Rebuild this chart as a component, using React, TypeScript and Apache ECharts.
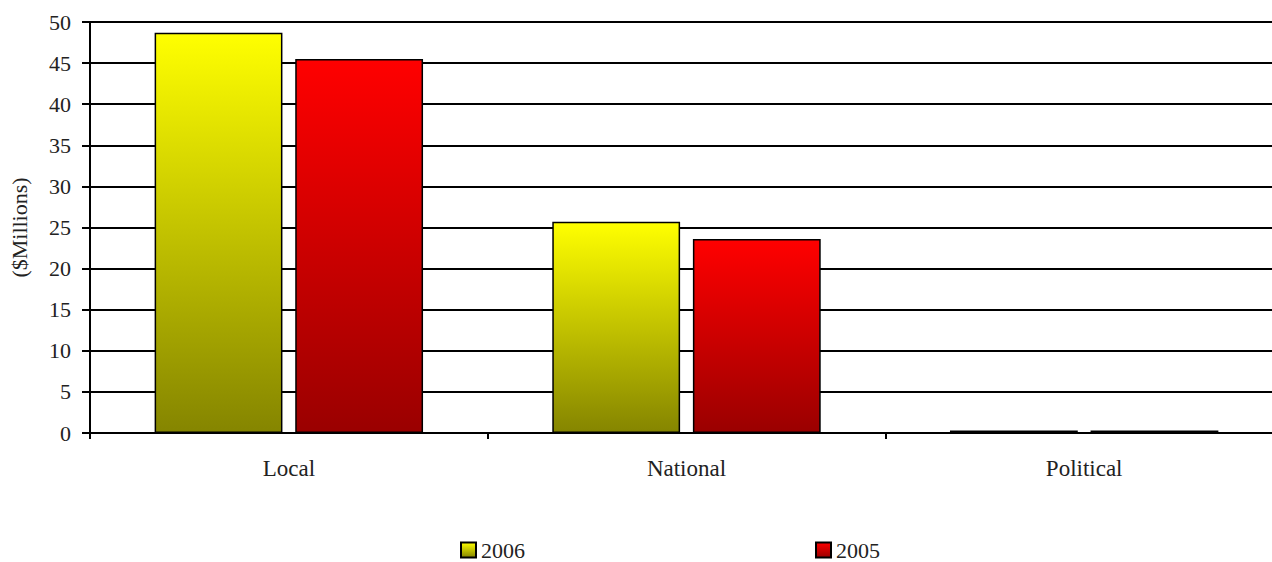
import React, { useEffect, useRef } from "react";
import * as echarts from "echarts";

const categories = ["Local", "National", "Political"];
const values2006 = [48.7, 25.7, 0.3];
const values2005 = [45.5, 23.6, 0.3];
const seriesNames = ["2006", "2005"];

export default function App() {
  const ref = useRef<HTMLDivElement>(null);
  useEffect(() => {
    if (!ref.current) return;
    const chart = echarts.init(ref.current, undefined, { renderer: "svg" });
    const font = "'Liberation Serif', 'Times New Roman', serif";
    const grad = (top: string, bottom: string) =>
      new echarts.graphic.LinearGradient(0, 0, 0, 1, [
        { offset: 0, color: top },
        { offset: 1, color: bottom },
      ]);
    chart.setOption({
      animation: false,
      backgroundColor: "#ffffff",
      textStyle: { fontFamily: font },
      grid: { left: 83, top: 22, bottom: 129, right: 7, containLabel: false },
      legend: {
        left: 460,
        top: 539,
        padding: 0,
        itemWidth: 15,
        itemHeight: 15,
        itemGap: 290,
        icon: "rect",
        textStyle: { fontFamily: font, fontSize: 22, lineHeight: 22, color: "#222" },
        data: seriesNames,
      },
      xAxis: {
        type: "category",
        data: categories,
        axisLine: { lineStyle: { color: "#000", width: 2 } },
        axisTick: { show: true, length: 6, lineStyle: { color: "#000", width: 2 } },
        axisLabel: { fontFamily: font, fontSize: 23, color: "#222", margin: 24 },
      },
      yAxis: {
        type: "value",
        min: 0,
        max: 50,
        interval: 5,
        name: "($Millions)",
        nameLocation: "middle",
        nameGap: 60,
        nameTextStyle: { fontFamily: font, fontSize: 22, color: "#222" },
        axisLine: { show: true, lineStyle: { color: "#000", width: 2 } },
        axisTick: { show: true, length: 8, lineStyle: { color: "#000", width: 2 } },
        axisLabel: { fontFamily: font, fontSize: 22, color: "#222", margin: 19 },
        splitLine: { show: true, lineStyle: { color: "#000", width: 2 } },
      },
      series: [
        {
          name: seriesNames[0],
          type: "bar",
          data: values2006,
          barCategoryGap: "32.5%",
          barGap: "10%",
          itemStyle: {
            color: grad("#ffff00", "#858500"),
            borderColor: "#000",
            borderWidth: 1.5,
          },
        },
        {
          name: seriesNames[1],
          type: "bar",
          data: values2005,
          barCategoryGap: "32.5%",
          barGap: "10%",
          itemStyle: {
            color: grad("#ff0000", "#9a0000"),
            borderColor: "#000",
            borderWidth: 1.5,
          },
        },
      ],
    });
    return () => chart.dispose();
  }, []);
  return (
    <div
      style={{
        position: "absolute",
        left: 0,
        top: 0,
        width: 1272,
        height: 562,
        overflow: "hidden",
      }}
    >
      <div ref={ref} style={{ width: 1290, height: 562 }} />
    </div>
  );
}
